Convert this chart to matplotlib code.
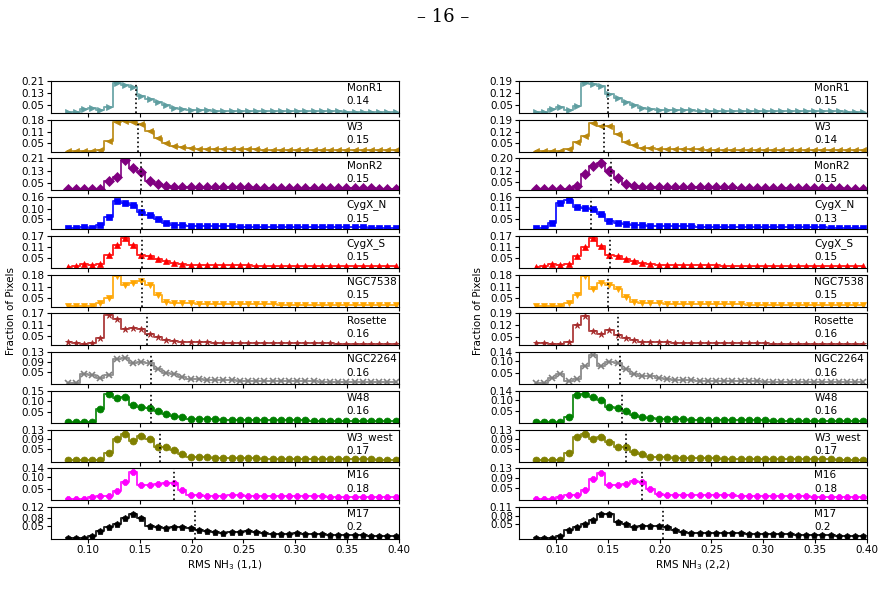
import matplotlib
matplotlib.use("Agg")
import matplotlib.pyplot as plt
import numpy as np

names = ["MonR1", "W3", "MonR2", "CygX_N", "CygX_S", "NGC7538",
         "Rosette", "NGC2264", "W48", "W3_west", "M16", "M17"]
colors = ["#5F9EA0", "#B8860B", "purple", "blue", "red", "orange",
          "brown", "gray", "green", "olive", "magenta", "black"]
markers = [">", "<", "D", "s", "^", "v", "*", "x", "o", "o", "8", "p"]

# 41 bin centres from 0.080 to 0.397
rms = np.linspace(0.080, 0.397, 41)

tail_low = [0.02, 0.018, 0.017, 0.016, 0.015, 0.014, 0.014, 0.013, 0.013, 0.012,
            0.012, 0.012, 0.011, 0.011, 0.011, 0.010, 0.010, 0.010, 0.010, 0.009,
            0.009, 0.009, 0.009, 0.008, 0.008, 0.008, 0.008, 0.007, 0.007, 0.007]
tail_mid = [0.022, 0.02, 0.02, 0.02, 0.021, 0.021, 0.02, 0.02, 0.02, 0.019,
            0.019, 0.018, 0.018, 0.018, 0.017, 0.017, 0.016, 0.016, 0.015, 0.015,
            0.014, 0.014, 0.013, 0.013, 0.012, 0.012, 0.012, 0.011, 0.011, 0.010]

# RMS NH3 (1,1)
heads_11 = [
    [0.005, 0.005, 0.025, 0.03, 0.02, 0.04, 0.20, 0.185, 0.17, 0.11, 0.09, 0.07, 0.05, 0.035, 0.025],
    [0.003, 0.003, 0.003, 0.005, 0.01, 0.06, 0.165, 0.17, 0.165, 0.155, 0.115, 0.08, 0.05, 0.035, 0.025],
    [0.008, 0.008, 0.008, 0.008, 0.008, 0.065, 0.09, 0.2, 0.15, 0.12, 0.06, 0.04, 0.03, 0.025],
    [0.005, 0.005, 0.01, 0.008, 0.02, 0.06, 0.14, 0.13, 0.12, 0.085, 0.07, 0.05, 0.03, 0.022],
    [0.005, 0.01, 0.02, 0.015, 0.02, 0.07, 0.12, 0.16, 0.12, 0.07, 0.065, 0.045, 0.035, 0.025],
    [0.005, 0.005, 0.005, 0.005, 0.02, 0.05, 0.17, 0.12, 0.135, 0.145, 0.12, 0.065, 0.025, 0.02],
    [0.02, 0.01, 0.008, 0.01, 0.04, 0.16, 0.14, 0.085, 0.09, 0.085, 0.06, 0.045, 0.03, 0.022],
    [0.003, 0.003, 0.04, 0.035, 0.025, 0.035, 0.10, 0.105, 0.085, 0.088, 0.085, 0.06, 0.045, 0.04, 0.03, 0.022],
    [0.005, 0.005, 0.005, 0.005, 0.065, 0.135, 0.115, 0.12, 0.085, 0.075, 0.07, 0.055, 0.04, 0.03, 0.025],
    [0.005, 0.005, 0.005, 0.005, 0.005, 0.035, 0.09, 0.11, 0.085, 0.105, 0.09, 0.06, 0.06, 0.045, 0.03],
    [0.005, 0.005, 0.005, 0.015, 0.02, 0.02, 0.04, 0.08, 0.125, 0.065, 0.065, 0.07, 0.075, 0.075, 0.045, 0.025],
    [0.005, 0.005, 0.005, 0.01, 0.03, 0.045, 0.055, 0.08, 0.095, 0.08, 0.05, 0.045, 0.04, 0.045, 0.045,
     0.04, 0.035, 0.03, 0.025, 0.022, 0.025, 0.025, 0.028, 0.025, 0.022, 0.02, 0.018, 0.02, 0.022, 0.02,
     0.018, 0.018, 0.016, 0.015, 0.015, 0.014, 0.013, 0.012, 0.012, 0.012, 0.01],
]
tails_11 = [tail_low, tail_low, tail_mid, tail_low, tail_low, tail_low,
            tail_low, tail_low, tail_low, tail_low, tail_mid, tail_low]
means_11 = [0.146, 0.148, 0.151, 0.152, 0.152, 0.152, 0.157, 0.161, 0.161, 0.169, 0.183, 0.203]
labels_11 = ["0.14", "0.15", "0.15", "0.15", "0.15", "0.15", "0.16", "0.16", "0.16", "0.17", "0.18", "0.2"]
ticks_11 = [[0.05, 0.13, 0.21], [0.05, 0.11, 0.18], [0.05, 0.13, 0.21], [0.05, 0.10, 0.16],
            [0.05, 0.11, 0.17], [0.05, 0.11, 0.18], [0.05, 0.11, 0.17], [0.05, 0.09, 0.13],
            [0.05, 0.10, 0.15], [0.05, 0.09, 0.13], [0.05, 0.10, 0.14], [0.05, 0.08, 0.12]]

# RMS NH3 (2,2)
heads_22 = [
    [0.005, 0.005, 0.025, 0.035, 0.02, 0.04, 0.18, 0.17, 0.16, 0.11, 0.09, 0.065, 0.05, 0.03, 0.022],
    [0.003, 0.003, 0.003, 0.005, 0.015, 0.06, 0.095, 0.17, 0.155, 0.15, 0.105, 0.06, 0.04, 0.025],
    [0.008, 0.008, 0.008, 0.008, 0.008, 0.025, 0.1, 0.15, 0.17, 0.12, 0.08, 0.04, 0.03, 0.022],
    [0.005, 0.005, 0.03, 0.13, 0.145, 0.11, 0.105, 0.1, 0.075, 0.04, 0.03, 0.025, 0.022],
    [0.005, 0.01, 0.02, 0.015, 0.02, 0.065, 0.11, 0.16, 0.115, 0.07, 0.065, 0.045, 0.035, 0.025],
    [0.005, 0.005, 0.005, 0.005, 0.02, 0.065, 0.17, 0.1, 0.135, 0.12, 0.1, 0.055, 0.025, 0.018],
    [0.015, 0.015, 0.01, 0.01, 0.02, 0.12, 0.175, 0.085, 0.07, 0.09, 0.06, 0.045, 0.03, 0.022],
    [0.003, 0.003, 0.025, 0.045, 0.015, 0.02, 0.08, 0.125, 0.08, 0.095, 0.09, 0.065, 0.045, 0.035, 0.035, 0.025],
    [0.005, 0.005, 0.005, 0.005, 0.025, 0.12, 0.125, 0.115, 0.1, 0.07, 0.065, 0.05, 0.035, 0.025],
    [0.005, 0.005, 0.005, 0.005, 0.035, 0.1, 0.11, 0.09, 0.1, 0.08, 0.06, 0.06, 0.04, 0.03],
    [0.005, 0.005, 0.005, 0.015, 0.02, 0.02, 0.04, 0.085, 0.11, 0.06, 0.06, 0.065, 0.08, 0.075, 0.045, 0.025],
    [0.005, 0.005, 0.005, 0.01, 0.03, 0.04, 0.05, 0.065, 0.085, 0.085, 0.06, 0.05, 0.04, 0.045, 0.045,
     0.045, 0.04, 0.03, 0.025, 0.02, 0.02, 0.022, 0.022, 0.022, 0.02, 0.02, 0.018, 0.018, 0.018, 0.016,
     0.016, 0.016, 0.014, 0.014, 0.012, 0.012, 0.012, 0.01, 0.01, 0.01, 0.01],
]
tails_22 = tails_11
means_22 = [0.150, 0.146, 0.153, 0.133, 0.152, 0.150, 0.160, 0.162, 0.163, 0.167, 0.183, 0.203]
labels_22 = ["0.15", "0.14", "0.15", "0.13", "0.15", "0.15", "0.16", "0.16", "0.16", "0.17", "0.18", "0.2"]
ticks_22 = [[0.05, 0.12, 0.19], [0.05, 0.12, 0.19], [0.05, 0.12, 0.20], [0.05, 0.11, 0.16],
            [0.05, 0.11, 0.17], [0.05, 0.11, 0.18], [0.05, 0.12, 0.19], [0.05, 0.10, 0.14],
            [0.05, 0.10, 0.14], [0.05, 0.09, 0.13], [0.05, 0.09, 0.13], [0.05, 0.08, 0.11]]


def full_series(head, tail):
    return (head + tail)[:len(rms)]


fig = plt.figure(figsize=(8.86, 6.09), dpi=100)
fig.text(0.5, 0.972, "– 16 –", ha="center", va="center", fontsize=13, family="DejaVu Serif")

columns = [
    (0.0576, 0.450, heads_11, tails_11, means_11, labels_11, ticks_11, "RMS NH$_3$ (1,1)", 0.012),
    (0.586, 0.978, heads_22, tails_22, means_22, labels_22, ticks_22, "RMS NH$_3$ (2,2)", 0.540),
]

for left, right, heads, tails, means, labs, ticks, xlabel, ylab_x in columns:
    gs = fig.add_gridspec(12, 1, left=left, right=right, top=0.867, bottom=0.115, hspace=0.21)
    axes = []
    for i in range(12):
        ax = fig.add_subplot(gs[i], sharex=axes[0] if axes else None)
        axes.append(ax)
        y = full_series(heads[i], tails[i])
        ax.step(rms, y, where="mid", color=colors[i], lw=1.4, alpha=0.85)
        ax.plot(rms, y, ls="none", marker=markers[i], color=colors[i], ms=5,
                mew=1.2 if markers[i] == "x" else 0.5)
        ax.axvline(means[i], color="black", ls=":", lw=1.2)
        ax.set_ylim(0, ticks[i][-1])
        ax.set_yticks(ticks[i])
        ax.set_yticklabels([f"{t:.2f}" for t in ticks[i]])
        ax.tick_params(labelsize=7.5, length=3, pad=1.5)
        ax.text(0.85, 0.93, names[i] + "\n" + labs[i], transform=ax.transAxes,
                fontsize=7.5, va="top", ha="left", linespacing=1.4)
        if i < 11:
            ax.tick_params(labelbottom=False)
    axes[0].set_xlim(0.064, 0.399)
    axes[-1].set_xticks([0.10, 0.15, 0.20, 0.25, 0.30, 0.35, 0.40])
    axes[-1].set_xlabel(xlabel, fontsize=7.5, labelpad=2)
    fig.text(ylab_x, 0.49, "Fraction of Pixels", rotation=90, ha="center", va="center", fontsize=7.5)

fig.savefig("out.png", dpi=100)
